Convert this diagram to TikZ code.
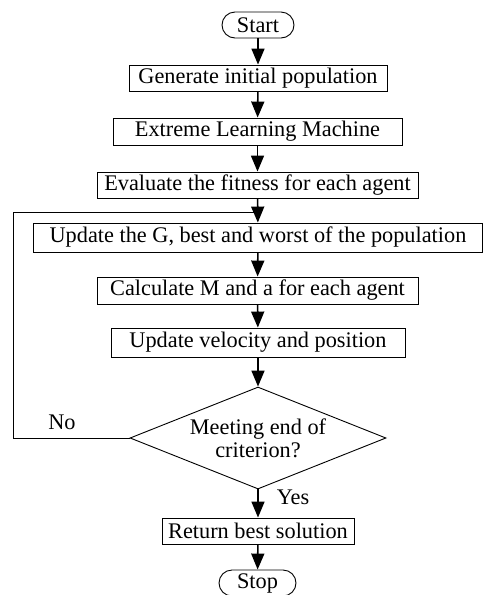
\documentclass[tikz,border=0pt]{standalone}
\usepackage{fontspec}
\setmainfont{Liberation Serif}
\usetikzlibrary{shapes.geometric,arrows.meta}
\begin{document}
\begin{tikzpicture}[x=1pt,y=-1pt,
  every node/.style={font=\fontsize{22.3}{23}\selectfont, inner sep=0pt},
  box/.style={draw, line width=0.9pt, minimum height=26pt},
  term/.style={box, rounded corners=13pt},
  dec/.style={draw, line width=0.9pt, diamond, aspect=2.5, minimum width=256pt, minimum height=102pt, align=center},
  flow/.style={line width=1.6pt, -{Triangle[length=16pt,width=13pt]}},
  fb/.style={line width=1pt},
  lbl/.style={}]
\useasboundingbox (0,0) rectangle (483,595);
\node[term, minimum width=72pt] (start) at (258,25) {Start};
\node[box, minimum width=258pt] (gen) at (258,78) {Generate initial population};
\node[box, minimum width=289pt, minimum height=27pt] (elm) at (257.5,131.5) {Extreme Learning Machine};
\node[box, minimum width=321pt] (eval) at (257.5,185) {Evaluate the fitness for each agent};
\node[box, minimum width=449pt, minimum height=29pt] (upd) at (258,237.5) {Update the G, best and worst of the population};
\node[box, minimum width=321pt, minimum height=27pt] (calc) at (257.5,290.5) {Calculate M and a for each agent};
\node[box, minimum width=294pt, minimum height=29pt] (vel) at (258,342.5) {Update velocity and position};
\node[dec] (crit) at (258,438) {Meeting end of\\criterion?};
\node[box, minimum width=192pt] (ret) at (258,531) {Return best solution};
\node[term, minimum width=77pt] (stop) at (257.5,583) {Stop};
\node[lbl] (no) at (62,422) {No};
\node[lbl] (yes) at (293,497) {Yes};
\coordinate (fbl) at (13,212);
\coordinate (join) at (258,212);
\draw[flow] (start) -- (gen);
\draw[flow] (gen) -- (elm);
\draw[flow] (elm) -- (eval);
\draw[flow] (eval) -- (upd);
\draw[flow] (upd) -- (calc);
\draw[flow] (calc) -- (vel);
\draw[flow] (vel) -- (crit);
\draw[flow] (crit) -- (ret);
\draw[flow] (ret) -- (stop);
\draw[fb] (crit.west) -| (fbl) -- (join);
\end{tikzpicture}
\end{document}
